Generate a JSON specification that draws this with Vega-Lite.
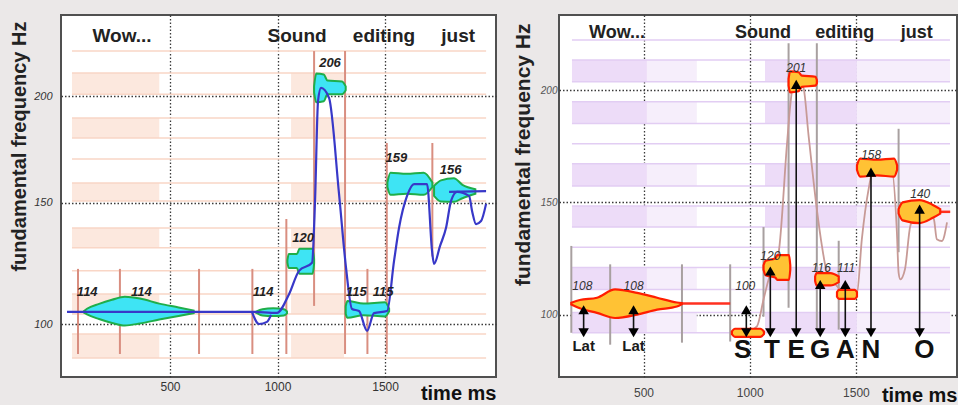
{
  "$schema": "https://vega.github.io/schema/vega-lite/v6.json",
  "background": "#ebe8e8",
  "padding": {"left": 7, "top": 14, "right": 0, "bottom": 0},
  "spacing": 13,
  "config": {"view": {"stroke": "#505050", "strokeWidth": 2, "fill": "white"}, "font": "Liberation Sans"},
  "datasets": {
    "lbands": [
      {"t1": 44, "t2": 450, "f1": 201.0, "f2": 211.8}, {"t1": 44, "t2": 450, "f1": 179.7, "f2": 189.3},
      {"t1": 44, "t2": 450, "f1": 150.8, "f2": 158.8}, {"t1": 44, "t2": 450, "f1": 130.6, "f2": 139.0},
      {"t1": 44, "t2": 450, "f1": 103.9, "f2": 111.8}, {"t1": 44, "t2": 450, "f1": 87.3, "f2": 96.3},
      {"t1": 1063, "t2": 1309, "f1": 201.0, "f2": 211.8}, {"t1": 1063, "t2": 1309, "f1": 179.7, "f2": 189.3},
      {"t1": 1063, "t2": 1309, "f1": 150.8, "f2": 158.8}, {"t1": 1063, "t2": 1309, "f1": 130.6, "f2": 139.0},
      {"t1": 1063, "t2": 1309, "f1": 103.9, "f2": 111.8}, {"t1": 1063, "t2": 1309, "f1": 87.3, "f2": 96.3}
    ],
    "llines": [
      {"t1": 44, "t2": 1970, "f": 223.2}, {"t1": 44, "t2": 1970, "f": 211.8}, {"t1": 44, "t2": 1970, "f": 201.0},
      {"t1": 44, "t2": 1970, "f": 189.3}, {"t1": 44, "t2": 1970, "f": 179.7}, {"t1": 44, "t2": 1970, "f": 169.8},
      {"t1": 44, "t2": 1970, "f": 158.8}, {"t1": 44, "t2": 1970, "f": 150.8}, {"t1": 44, "t2": 1970, "f": 139.0},
      {"t1": 44, "t2": 1970, "f": 130.6}, {"t1": 44, "t2": 1970, "f": 121.1}, {"t1": 44, "t2": 1970, "f": 111.8},
      {"t1": 44, "t2": 1970, "f": 103.9}, {"t1": 44, "t2": 1970, "f": 96.3}, {"t1": 44, "t2": 1970, "f": 87.3}
    ],
    "lsegs": [
      {"t": 72, "f1": 88.8, "f2": 121.9}, {"t": 267, "f1": 88.8, "f2": 121.9}, {"t": 635, "f1": 88.8, "f2": 121.9},
      {"t": 883, "f1": 88.8, "f2": 121.9}, {"t": 1041, "f1": 88.8, "f2": 142.9}, {"t": 1170, "f1": 107.1, "f2": 223.2},
      {"t": 1314, "f1": 88.8, "f2": 223.2}, {"t": 1418, "f1": 88.8, "f2": 121.9}, {"t": 1508, "f1": 88.8, "f2": 177.3},
      {"t": 1720, "f1": 127.0, "f2": 177.3}
    ],
    "lblobs": [
      {"b": "A", "t": 100, "hi": 105.1, "lo": 104.5}, {"b": "A", "t": 114, "hi": 106, "lo": 103.8},
      {"b": "A", "t": 170, "hi": 107.9, "lo": 102}, {"b": "A", "t": 230, "hi": 109.5, "lo": 100.5},
      {"b": "A", "t": 290, "hi": 110.7, "lo": 99.5}, {"b": "A", "t": 360, "hi": 110, "lo": 100.3},
      {"b": "A", "t": 450, "hi": 108, "lo": 101.8}, {"b": "A", "t": 540, "hi": 106.5, "lo": 103.2},
      {"b": "A", "t": 610, "hi": 105.3, "lo": 104.3},
      {"b": "B", "t": 900, "hi": 104.9, "lo": 104.5}, {"b": "B", "t": 930, "hi": 105.8, "lo": 103.4},
      {"b": "B", "t": 980, "hi": 106.2, "lo": 103.2}, {"b": "B", "t": 1030, "hi": 105.8, "lo": 103.4},
      {"b": "B", "t": 1044, "hi": 104.9, "lo": 104.2},
      {"b": "C", "t": 1046, "hi": 125.5, "lo": 124.5}, {"b": "C", "t": 1052, "hi": 128, "lo": 122.3},
      {"b": "C", "t": 1090, "hi": 128, "lo": 122.3}, {"b": "C", "t": 1102, "hi": 130.2, "lo": 119.9},
      {"b": "C", "t": 1163, "hi": 130.2, "lo": 119.9}, {"b": "C", "t": 1170, "hi": 126, "lo": 124},
      {"b": "D", "t": 1170, "hi": 205, "lo": 202}, {"b": "D", "t": 1180, "hi": 211.5, "lo": 197},
      {"b": "D", "t": 1215, "hi": 211, "lo": 197.5}, {"b": "D", "t": 1232, "hi": 208, "lo": 201},
      {"b": "D", "t": 1300, "hi": 207.5, "lo": 201}, {"b": "D", "t": 1317, "hi": 205, "lo": 203},
      {"b": "E", "t": 1317, "hi": 107, "lo": 104}, {"b": "E", "t": 1325, "hi": 109, "lo": 102.5},
      {"b": "E", "t": 1400, "hi": 108, "lo": 103.5}, {"b": "E", "t": 1500, "hi": 108.5, "lo": 103},
      {"b": "E", "t": 1519, "hi": 106, "lo": 105},
      {"b": "F", "t": 1511, "hi": 159, "lo": 157}, {"b": "F", "t": 1525, "hi": 163.5, "lo": 153.5},
      {"b": "F", "t": 1600, "hi": 163, "lo": 154}, {"b": "F", "t": 1680, "hi": 163.5, "lo": 153.5},
      {"b": "F", "t": 1720, "hi": 159, "lo": 157},
      {"b": "G", "t": 1728, "hi": 157.5, "lo": 153}, {"b": "G", "t": 1760, "hi": 160, "lo": 150.5},
      {"b": "G", "t": 1820, "hi": 161, "lo": 150.4}, {"b": "G", "t": 1860, "hi": 158, "lo": 152},
      {"b": "G", "t": 1920, "hi": 156, "lo": 154}
    ],
    "lcont": [
      {"s": 1, "i": 1, "t": 21, "f": 104.8}, {"s": 1, "i": 2, "t": 881, "f": 104.8},
      {"s": 1, "i": 3, "t": 997.7, "f": 104.4}, {"s": 1, "i": 4, "t": 1053.5, "f": 111.7},
      {"s": 1, "i": 5, "t": 1100, "f": 121.1}, {"s": 1, "i": 6, "t": 1160.5, "f": 124.4},
      {"s": 1, "i": 7, "t": 1174.4, "f": 150.8}, {"s": 1, "i": 8, "t": 1188.4, "f": 197.7},
      {"s": 1, "i": 9, "t": 1202.3, "f": 204.2}, {"s": 1, "i": 10, "t": 1239.5, "f": 199.2},
      {"s": 1, "i": 11, "t": 1286, "f": 153.9}, {"s": 1, "i": 12, "t": 1318.6, "f": 122.3},
      {"s": 1, "i": 13, "t": 1346.5, "f": 105.9}, {"s": 1, "i": 14, "t": 1379, "f": 105.1},
      {"s": 1, "i": 15, "t": 1416.3, "f": 97.5}, {"s": 1, "i": 16, "t": 1448.8, "f": 104.3},
      {"s": 1, "i": 17, "t": 1509.3, "f": 105.1}, {"s": 1, "i": 18, "t": 1541.9, "f": 125.2},
      {"s": 1, "i": 19, "t": 1565.1, "f": 139.1}, {"s": 1, "i": 20, "t": 1602.3, "f": 153.0},
      {"s": 1, "i": 21, "t": 1634.9, "f": 158.3}, {"s": 1, "i": 22, "t": 1695.3, "f": 158.3},
      {"s": 1, "i": 23, "t": 1718.6, "f": 129.3}, {"s": 1, "i": 24, "t": 1727.9, "f": 123.9},
      {"s": 1, "i": 25, "t": 1755.8, "f": 131.4}, {"s": 1, "i": 26, "t": 1783.7, "f": 139.1},
      {"s": 1, "i": 27, "t": 1807, "f": 150.8}, {"s": 1, "i": 28, "t": 1834.9, "f": 154.8},
      {"s": 1, "i": 29, "t": 1890.7, "f": 153.0}, {"s": 1, "i": 30, "t": 1904.7, "f": 146.4},
      {"s": 1, "i": 31, "t": 1923.3, "f": 140.7}, {"s": 1, "i": 32, "t": 1946.5, "f": 142.0},
      {"s": 1, "i": 33, "t": 1969.8, "f": 149.5},
      {"s": 2, "i": 1, "t": 881, "f": 104.8}, {"s": 2, "i": 2, "t": 914, "f": 100.1},
      {"s": 2, "i": 3, "t": 951, "f": 100.9}, {"s": 2, "i": 4, "t": 970, "f": 103.6},
      {"s": 3, "i": 1, "t": 1797.7, "f": 154.8}, {"s": 3, "i": 2, "t": 1969.8, "f": 155.2}
    ],
    "lnums": [
      {"t": 115, "f": 112.4, "n": "114"}, {"t": 367, "f": 112.4, "n": "114"}, {"t": 933, "f": 112.4, "n": "114"},
      {"t": 1119, "f": 134.6, "n": "120"}, {"t": 1244, "f": 216.8, "n": "206"}, {"t": 1367, "f": 112.4, "n": "115"},
      {"t": 1491, "f": 112.4, "n": "115"}, {"t": 1553, "f": 170.4, "n": "159"}, {"t": 1805, "f": 164.6, "n": "156"}
    ],
    "lwords": [
      {"t": 277, "f": 231.2, "w": "Wow..."}, {"t": 1091, "f": 231.2, "w": "Sound"},
      {"t": 1495, "f": 231.2, "w": "editing"}, {"t": 1840, "f": 231.2, "w": "just"}
    ],
    "rbandsStrong": [
      {"t1": 163, "t2": 516, "f1": 203.8, "f2": 213.4}, {"t1": 163, "t2": 516, "f1": 185.1, "f2": 194.9},
      {"t1": 163, "t2": 516, "f1": 157.3, "f2": 167.2}, {"t1": 163, "t2": 516, "f1": 139.0, "f2": 148.4},
      {"t1": 163, "t2": 516, "f1": 111.2, "f2": 121.0}, {"t1": 163, "t2": 516, "f1": 91.9, "f2": 100.9},
      {"t1": 1072, "t2": 1505, "f1": 203.8, "f2": 213.4}, {"t1": 1072, "t2": 1505, "f1": 185.1, "f2": 194.9},
      {"t1": 1072, "t2": 1505, "f1": 157.3, "f2": 167.2}, {"t1": 1072, "t2": 1505, "f1": 139.0, "f2": 148.4},
      {"t1": 1072, "t2": 1505, "f1": 111.2, "f2": 121.0}, {"t1": 1072, "t2": 1505, "f1": 91.9, "f2": 100.9}
    ],
    "rbandsFaint": [
      {"t1": 516, "t2": 751, "f1": 203.8, "f2": 213.4}, {"t1": 516, "t2": 751, "f1": 185.1, "f2": 194.9},
      {"t1": 516, "t2": 751, "f1": 157.3, "f2": 167.2}, {"t1": 516, "t2": 751, "f1": 139.0, "f2": 148.4},
      {"t1": 516, "t2": 751, "f1": 111.2, "f2": 121.0}, {"t1": 516, "t2": 751, "f1": 91.9, "f2": 100.9},
      {"t1": 1505, "t2": 1943, "f1": 203.8, "f2": 213.4}, {"t1": 1505, "t2": 1943, "f1": 185.1, "f2": 194.9},
      {"t1": 1505, "t2": 1943, "f1": 157.3, "f2": 167.2}, {"t1": 1505, "t2": 1943, "f1": 139.0, "f2": 148.4},
      {"t1": 1505, "t2": 1943, "f1": 111.2, "f2": 121.0}, {"t1": 1505, "t2": 1943, "f1": 91.9, "f2": 100.9}
    ],
    "rlines": [
      {"t1": 163, "t2": 1943, "f": 222.4}, {"t1": 163, "t2": 1943, "f": 213.4}, {"t1": 163, "t2": 1943, "f": 203.8},
      {"t1": 163, "t2": 1943, "f": 194.9}, {"t1": 163, "t2": 1943, "f": 185.1}, {"t1": 163, "t2": 1943, "f": 176.1},
      {"t1": 163, "t2": 1943, "f": 167.2}, {"t1": 163, "t2": 1943, "f": 157.3}, {"t1": 163, "t2": 1943, "f": 148.4},
      {"t1": 163, "t2": 1943, "f": 139.0}, {"t1": 163, "t2": 1943, "f": 130.0}, {"t1": 163, "t2": 1943, "f": 121.0},
      {"t1": 163, "t2": 1943, "f": 111.2}, {"t1": 163, "t2": 1943, "f": 100.9}, {"t1": 163, "t2": 1943, "f": 91.9}
    ],
    "rsegs": [
      {"t": 160, "f1": 91.9, "f2": 130.6}, {"t": 343, "f1": 86.6, "f2": 122.4}, {"t": 681, "f1": 87.5, "f2": 122.4},
      {"t": 908, "f1": 88.0, "f2": 122.4}, {"t": 1065, "f1": 99.1, "f2": 139.0}, {"t": 1183, "f1": 103.1, "f2": 220.9},
      {"t": 1316, "f1": 93.3, "f2": 220.9}, {"t": 1419, "f1": 93.3, "f2": 132.9}, {"t": 1701, "f1": 127.8, "f2": 182.8}
    ],
    "rblobs": [
      {"b": "W", "t": 160, "hi": 105.3, "lo": 104.5}, {"b": "W", "t": 200, "hi": 106.5, "lo": 102.8},
      {"b": "W", "t": 281, "hi": 107.5, "lo": 100.8}, {"b": "W", "t": 366, "hi": 111.2, "lo": 98.5},
      {"b": "W", "t": 470, "hi": 109.7, "lo": 100}, {"b": "W", "t": 564, "hi": 107.5, "lo": 102.2},
      {"b": "W", "t": 657, "hi": 105.4, "lo": 103.6}, {"b": "W", "t": 680, "hi": 105.1, "lo": 104.6},
      {"b": "S", "t": 916, "hi": 92.5, "lo": 91.3}, {"b": "S", "t": 930, "hi": 93.7, "lo": 90.1},
      {"b": "S", "t": 1050, "hi": 93.7, "lo": 90.1}, {"b": "S", "t": 1067, "hi": 92.5, "lo": 91.3},
      {"b": "T", "t": 1065, "hi": 122, "lo": 120}, {"b": "T", "t": 1075, "hi": 124, "lo": 117.5},
      {"b": "T", "t": 1120, "hi": 125, "lo": 116.5}, {"b": "T", "t": 1130, "hi": 126.5, "lo": 115.5},
      {"b": "T", "t": 1185, "hi": 126.5, "lo": 115.5}, {"b": "T", "t": 1191, "hi": 122, "lo": 120},
      {"b": "E", "t": 1183, "hi": 205, "lo": 202}, {"b": "E", "t": 1190, "hi": 208.4, "lo": 199},
      {"b": "E", "t": 1230, "hi": 208, "lo": 199.5}, {"b": "E", "t": 1245, "hi": 206.5, "lo": 201.5},
      {"b": "E", "t": 1310, "hi": 206, "lo": 202}, {"b": "E", "t": 1316, "hi": 204.5, "lo": 203},
      {"b": "G", "t": 1308, "hi": 117, "lo": 115}, {"b": "G", "t": 1315, "hi": 118.5, "lo": 113},
      {"b": "G", "t": 1380, "hi": 118.5, "lo": 113}, {"b": "G", "t": 1419, "hi": 117, "lo": 114.5},
      {"b": "A", "t": 1411, "hi": 110, "lo": 108}, {"b": "A", "t": 1420, "hi": 111, "lo": 107},
      {"b": "A", "t": 1495, "hi": 111, "lo": 107}, {"b": "A", "t": 1505, "hi": 110, "lo": 108},
      {"b": "N", "t": 1505, "hi": 166.5, "lo": 164.5}, {"b": "N", "t": 1520, "hi": 169.5, "lo": 161.5},
      {"b": "N", "t": 1600, "hi": 169, "lo": 162}, {"b": "N", "t": 1680, "hi": 169.5, "lo": 161.5},
      {"b": "N", "t": 1694, "hi": 166.5, "lo": 164.5},
      {"b": "O", "t": 1701, "hi": 147, "lo": 145}, {"b": "O", "t": 1720, "hi": 150, "lo": 142},
      {"b": "O", "t": 1800, "hi": 151, "lo": 140.8}, {"b": "O", "t": 1860, "hi": 149, "lo": 143},
      {"b": "O", "t": 1897, "hi": 147, "lo": 145}
    ],
    "rtails": [
      {"s": 1, "t": 657, "f": 104.9}, {"s": 1, "t": 908, "f": 104.9},
      {"s": 2, "t": 1890, "f": 145.8}, {"s": 2, "t": 1944, "f": 145.8}
    ],
    "rcont": [
      {"i": 1, "t": 971, "f": 91.8}, {"i": 2, "t": 1034, "f": 94.8}, {"i": 3, "t": 1065, "f": 106.7},
      {"i": 4, "t": 1089, "f": 115.7}, {"i": 5, "t": 1136, "f": 127.6}, {"i": 6, "t": 1175, "f": 175.4},
      {"i": 7, "t": 1191, "f": 193.3}, {"i": 8, "t": 1207, "f": 203.8}, {"i": 9, "t": 1230, "f": 205.2},
      {"i": 10, "t": 1254, "f": 200.8}, {"i": 11, "t": 1277, "f": 179.9}, {"i": 12, "t": 1316, "f": 147.0},
      {"i": 13, "t": 1340, "f": 130.6}, {"i": 14, "t": 1364, "f": 118.7}, {"i": 15, "t": 1411, "f": 112.7},
      {"i": 16, "t": 1458, "f": 109.0}, {"i": 17, "t": 1505, "f": 109.7}, {"i": 18, "t": 1528, "f": 133.6},
      {"i": 19, "t": 1560, "f": 156.0}, {"i": 20, "t": 1580, "f": 164.0}, {"i": 21, "t": 1670, "f": 163.5},
      {"i": 22, "t": 1693, "f": 136.6}, {"i": 23, "t": 1701, "f": 118.7}, {"i": 24, "t": 1709, "f": 115.7},
      {"i": 25, "t": 1731, "f": 120.2}, {"i": 26, "t": 1756, "f": 139.5}, {"i": 27, "t": 1795, "f": 146.3},
      {"i": 28, "t": 1834, "f": 145.8}, {"i": 29, "t": 1867, "f": 142.5}, {"i": 30, "t": 1881, "f": 133.6},
      {"i": 31, "t": 1905, "f": 132.8}, {"i": 32, "t": 1929, "f": 141.1}
    ],
    "rarrows": [
      {"t": 218, "f1": 102.2, "f2": 91.9}, {"t": 453, "f1": 102.2, "f2": 91.9}, {"t": 984, "f1": 102.2, "f2": 91.9},
      {"t": 1097, "f1": 119.4, "f2": 91.9}, {"t": 1219, "f1": 202.6, "f2": 91.9}, {"t": 1332, "f1": 113.4, "f2": 91.9},
      {"t": 1450, "f1": 113.4, "f2": 91.9}, {"t": 1571, "f1": 163.5, "f2": 91.9}, {"t": 1800, "f1": 147.0, "f2": 91.9}
    ],
    "rlat": [{"t": 218, "f": 85.8, "w": "Lat"}, {"t": 453, "f": 85.8, "w": "Lat"}],
    "rletters": [
      {"t": 967, "f": 84.3, "w": "S"}, {"t": 1105, "f": 84.3, "w": "T"}, {"t": 1219, "f": 84.3, "w": "E"},
      {"t": 1332, "f": 84.3, "w": "G"}, {"t": 1450, "f": 84.3, "w": "A"}, {"t": 1571, "f": 84.3, "w": "N"},
      {"t": 1822, "f": 84.3, "w": "O"}
    ],
    "rnums": [
      {"t": 212, "f": 112.7, "n": "108"}, {"t": 453, "f": 112.7, "n": "108"}, {"t": 979, "f": 112.7, "n": "100"},
      {"t": 1097, "f": 126.1, "n": "120"}, {"t": 1219, "f": 209.7, "n": "201"}, {"t": 1337, "f": 120.9, "n": "116"},
      {"t": 1454, "f": 120.9, "n": "111"}, {"t": 1572, "f": 170.9, "n": "158"}, {"t": 1803, "f": 153.7, "n": "140"}
    ],
    "rwords": [
      {"t": 375, "f": 225.4, "w": "Wow..."}, {"t": 1063, "f": 225.4, "w": "Sound"},
      {"t": 1448, "f": 225.4, "w": "editing"}, {"t": 1787, "f": 225.4, "w": "just"}
    ]
  },
  "hconcat": [
    {
      "width": 435,
      "height": 362,
      "layer": [
        {
          "data": {"name": "lbands"},
          "mark": {"type": "rect", "color": "#fce8de"},
          "encoding": {
            "x": {"field": "t1", "type": "quantitative", "title": "time ms", "scale": {"domain": [-7, 2016], "nice": false, "zero": false},
              "axis": {"title": "time ms", "values": [500, 1000, 1500], "format": "d", "grid": true, "gridDash": [1.5, 2], "gridColor": "#3a3a3a", "gridWidth": 1.3,
                "ticks": false, "domain": false, "labelFontSize": 12, "labelColor": "#333", "labelPadding": 4,
                "titleFontSize": 20, "titleFontWeight": "bold", "titleColor": "#111", "titleAnchor": "end", "titleAlign": "right",
                "titleX": 435, "titleY": 16, "titleBaseline": "middle"}},
            "x2": {"field": "t2"},
            "y": {"field": "f1", "type": "quantitative", "title": "fundamental frequency Hz", "scale": {"type": "symlog", "constant": 228.8, "domain": [80.4, 242.6], "nice": false, "zero": false},
              "axis": {"title": "fundamental frequency Hz", "values": [100, 150, 200], "grid": true, "gridDash": [1.5, 2], "gridColor": "#3a3a3a", "gridWidth": 1.3,
                "ticks": false, "domain": false, "labelFontSize": 11, "labelFontStyle": "italic", "labelColor": "#333", "labelPadding": 9,
                "titleFontSize": 20, "titleFontWeight": "bold", "titleColor": "#222", "titleAngle": -90, "titleAlign": "right",
                "titleX": -42, "titleY": 6, "titleBaseline": "middle"}},
            "y2": {"field": "f2"}
          }
        },
        {
          "data": {"name": "llines"},
          "mark": {"type": "rule", "color": "#f9d6c6", "strokeWidth": 1.5},
          "encoding": {
            "x": {"field": "t1", "type": "quantitative", "title": "time ms"},
            "x2": {"field": "t2"},
            "y": {"field": "f", "type": "quantitative", "title": "fundamental frequency Hz"}
          }
        },
        {
          "data": {"name": "lsegs"},
          "mark": {"type": "rule", "color": "#d98e80", "strokeWidth": 2},
          "encoding": {
            "x": {"field": "t", "type": "quantitative", "title": "time ms"},
            "y": {"field": "f1", "type": "quantitative", "title": "fundamental frequency Hz"},
            "y2": {"field": "f2"}
          }
        },
        {
          "data": {"name": "lblobs"},
          "mark": {"type": "area", "color": "#3ee4f4", "stroke": "#1fae4a", "strokeWidth": 2, "interpolate": "monotone", "opacity": 1},
          "encoding": {
            "x": {"field": "t", "type": "quantitative", "title": "time ms"},
            "y": {"field": "hi", "type": "quantitative", "title": "fundamental frequency Hz"},
            "y2": {"field": "lo"},
            "detail": {"field": "b", "type": "nominal"}
          }
        },
        {
          "data": {"name": "lcont"},
          "mark": {"type": "line", "color": "#3838c8", "strokeWidth": 2.2, "interpolate": "monotone"},
          "encoding": {
            "x": {"field": "t", "type": "quantitative", "title": "time ms"},
            "y": {"field": "f", "type": "quantitative", "title": "fundamental frequency Hz"},
            "detail": {"field": "s", "type": "nominal"},
            "order": {"field": "i", "type": "quantitative"}
          }
        },
        {
          "data": {"name": "lnums"},
          "mark": {"type": "text", "fontSize": 13, "fontStyle": "italic", "fontWeight": "bold", "color": "#222", "baseline": "middle"},
          "encoding": {
            "x": {"field": "t", "type": "quantitative", "title": "time ms"},
            "y": {"field": "f", "type": "quantitative", "title": "fundamental frequency Hz"},
            "text": {"field": "n"}
          }
        },
        {
          "data": {"name": "lwords"},
          "mark": {"type": "text", "fontSize": 19, "fontWeight": "bold", "color": "#222", "baseline": "middle"},
          "encoding": {
            "x": {"field": "t", "type": "quantitative", "title": "time ms"},
            "y": {"field": "f", "type": "quantitative", "title": "fundamental frequency Hz"},
            "text": {"field": "w"}
          }
        }
      ]
    },
    {
      "width": 398,
      "height": 362,
      "layer": [
        {
          "data": {"name": "rbandsStrong"},
          "mark": {"type": "rect", "color": "#eddcf8"},
          "encoding": {
            "x": {"field": "t1", "type": "quantitative", "title": "time ms", "scale": {"domain": [102, 1976], "nice": false, "zero": false},
              "axis": {"title": "time ms", "values": [500, 1000, 1500], "format": "d", "grid": true, "gridDash": [1.5, 2], "gridColor": "#3a3a3a", "gridWidth": 1.3,
                "ticks": false, "domain": false, "labelFontSize": 12, "labelColor": "#444", "labelPadding": 10,
                "titleFontSize": 20, "titleFontWeight": "bold", "titleColor": "#111", "titleAnchor": "end", "titleAlign": "right",
                "titleX": 398, "titleY": 18, "titleBaseline": "middle"}},
            "x2": {"field": "t2"},
            "y": {"field": "f1", "type": "quantitative", "title": "fundamental frequency Hz", "scale": {"domain": [72.2, 233.5], "nice": false, "zero": false},
              "axis": {"title": "fundamental frequency Hz", "values": [100, 150, 200], "grid": true, "gridDash": [1.5, 2], "gridColor": "#3a3a3a", "gridWidth": 1.3,
                "ticks": false, "domain": false, "labelFontSize": 10, "labelFontStyle": "italic", "labelColor": "#555", "labelPadding": 2,
                "titleFontSize": 21, "titleFontWeight": "bold", "titleColor": "#222", "titleAngle": -90, "titleAlign": "right",
                "titleX": -36, "titleY": 8, "titleBaseline": "middle"}},
            "y2": {"field": "f2"}
          }
        },
        {
          "data": {"name": "rbandsFaint"},
          "mark": {"type": "rect", "color": "#f6eefb"},
          "encoding": {
            "x": {"field": "t1", "type": "quantitative", "title": "time ms"},
            "x2": {"field": "t2"},
            "y": {"field": "f1", "type": "quantitative", "title": "fundamental frequency Hz"},
            "y2": {"field": "f2"}
          }
        },
        {
          "data": {"name": "rlines"},
          "mark": {"type": "rule", "color": "#e2cdf3", "strokeWidth": 1.5},
          "encoding": {
            "x": {"field": "t1", "type": "quantitative", "title": "time ms"},
            "x2": {"field": "t2"},
            "y": {"field": "f", "type": "quantitative", "title": "fundamental frequency Hz"}
          }
        },
        {
          "data": {"name": "rsegs"},
          "mark": {"type": "rule", "color": "#a8a0a0", "strokeWidth": 2},
          "encoding": {
            "x": {"field": "t", "type": "quantitative", "title": "time ms"},
            "y": {"field": "f1", "type": "quantitative", "title": "fundamental frequency Hz"},
            "y2": {"field": "f2"}
          }
        },
        {
          "data": {"name": "rcont"},
          "mark": {"type": "line", "color": "#c79a96", "strokeWidth": 1.8, "interpolate": "monotone"},
          "encoding": {
            "x": {"field": "t", "type": "quantitative", "title": "time ms"},
            "y": {"field": "f", "type": "quantitative", "title": "fundamental frequency Hz"},
            "order": {"field": "i", "type": "quantitative"}
          }
        },
        {
          "data": {"name": "rtails"},
          "mark": {"type": "line", "color": "#ff3020", "strokeWidth": 2.5},
          "encoding": {
            "x": {"field": "t", "type": "quantitative", "title": "time ms"},
            "y": {"field": "f", "type": "quantitative", "title": "fundamental frequency Hz"},
            "detail": {"field": "s", "type": "nominal"}
          }
        },
        {
          "data": {"name": "rblobs"},
          "mark": {"type": "area", "color": "#ffc234", "stroke": "#ff1e00", "strokeWidth": 2.2, "interpolate": "monotone", "opacity": 1},
          "encoding": {
            "x": {"field": "t", "type": "quantitative", "title": "time ms"},
            "y": {"field": "hi", "type": "quantitative", "title": "fundamental frequency Hz"},
            "y2": {"field": "lo"},
            "detail": {"field": "b", "type": "nominal"}
          }
        },
        {
          "data": {"name": "rarrows"},
          "mark": {"type": "rule", "color": "#111", "strokeWidth": 1.6},
          "encoding": {
            "x": {"field": "t", "type": "quantitative", "title": "time ms"},
            "y": {"field": "f1", "type": "quantitative", "title": "fundamental frequency Hz"},
            "y2": {"field": "f2"}
          }
        },
        {
          "data": {"name": "rarrows"},
          "mark": {"type": "point", "shape": "triangle-up", "filled": true, "color": "#000", "size": 110, "opacity": 1},
          "encoding": {
            "x": {"field": "t", "type": "quantitative", "title": "time ms"},
            "y": {"field": "f1", "type": "quantitative", "title": "fundamental frequency Hz"}
          }
        },
        {
          "data": {"name": "rarrows"},
          "mark": {"type": "point", "shape": "triangle-down", "filled": true, "color": "#000", "size": 110, "opacity": 1},
          "encoding": {
            "x": {"field": "t", "type": "quantitative", "title": "time ms"},
            "y": {"field": "f2", "type": "quantitative", "title": "fundamental frequency Hz"}
          }
        },
        {
          "data": {"name": "rlat"},
          "mark": {"type": "text", "fontSize": 15, "fontWeight": "bold", "color": "#1a1a1a", "baseline": "middle"},
          "encoding": {
            "x": {"field": "t", "type": "quantitative", "title": "time ms"},
            "y": {"field": "f", "type": "quantitative", "title": "fundamental frequency Hz"},
            "text": {"field": "w"}
          }
        },
        {
          "data": {"name": "rletters"},
          "mark": {"type": "text", "fontSize": 26, "fontWeight": "bold", "color": "#111", "baseline": "middle"},
          "encoding": {
            "x": {"field": "t", "type": "quantitative", "title": "time ms"},
            "y": {"field": "f", "type": "quantitative", "title": "fundamental frequency Hz"},
            "text": {"field": "w"}
          }
        },
        {
          "data": {"name": "rnums"},
          "mark": {"type": "text", "fontSize": 12, "fontStyle": "italic", "color": "#333", "baseline": "middle"},
          "encoding": {
            "x": {"field": "t", "type": "quantitative", "title": "time ms"},
            "y": {"field": "f", "type": "quantitative", "title": "fundamental frequency Hz"},
            "text": {"field": "n"}
          }
        },
        {
          "data": {"name": "rwords"},
          "mark": {"type": "text", "fontSize": 18, "fontWeight": "bold", "color": "#222", "baseline": "middle"},
          "encoding": {
            "x": {"field": "t", "type": "quantitative", "title": "time ms"},
            "y": {"field": "f", "type": "quantitative", "title": "fundamental frequency Hz"},
            "text": {"field": "w"}
          }
        }
      ]
    }
  ]
}
